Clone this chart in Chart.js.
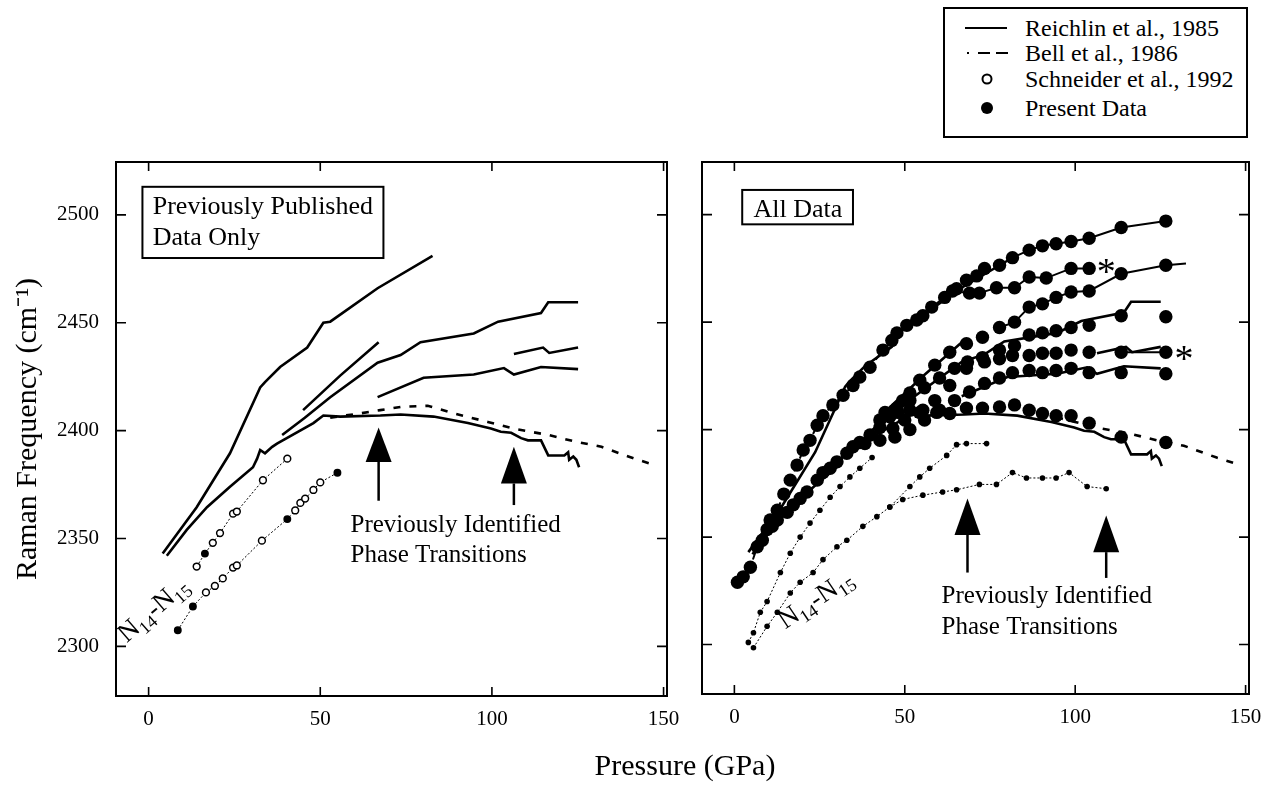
<!DOCTYPE html>
<html>
<head>
<meta charset="utf-8">
<script src="https://cdn.jsdelivr.net/npm/chart.js@4.4.0/dist/chart.umd.min.js"></script>
<style>
  body { margin: 0; background: #fff; width: 1267px; height: 785px; position: relative; overflow: hidden; font-family: "Liberation Serif", serif; }
  #left { position: absolute; left: 0; top: 0; }
  #right { position: absolute; left: 690px; top: 0; }
  #xtitle { position: absolute; left: 535px; top: 748px; width: 300px; text-align: center; font-size: 30px; }
  #legend { position: absolute; left: 943px; top: 7px; width: 305px; height: 131px; box-sizing: border-box; border: 2px solid #000; background: #fff; }
  #legend svg { position: absolute; left: 0; top: 0; }
  #legend .t { position: absolute; left: 80px; font-size: 24px; line-height: 26px; white-space: nowrap; }
</style>
</head>
<body>
<canvas id="left" width="690" height="785"></canvas>
<canvas id="right" width="577" height="785"></canvas>
<div id="xtitle">Pressure (GPa)</div>
<div id="legend">
  <svg width="80" height="127">
    <line x1="20" y1="19" x2="62" y2="19" stroke="#000" stroke-width="2"/>
    <line x1="22" y1="44" x2="24" y2="44" stroke="#000" stroke-width="2"/>
    <line x1="33" y1="44" x2="45" y2="44" stroke="#000" stroke-width="2"/>
    <line x1="51" y1="44" x2="63" y2="44" stroke="#000" stroke-width="2"/>
    <circle cx="42" cy="70" r="4.5" fill="#fff" stroke="#000" stroke-width="2"/>
    <circle cx="42" cy="99" r="6" fill="#000"/>
  </svg>
  <div class="t" style="top:6px">Reichlin et al., 1985</div>
  <div class="t" style="top:31px">Bell et al., 1986</div>
  <div class="t" style="top:57px">Schneider et al., 1992</div>
  <div class="t" style="top:86px">Present Data</div>
</div>
<script>
// axis ticks
const xTickVals = [0, 50, 100, 150];
const yTickVals = [2300, 2350, 2400, 2450, 2500];

// Reichlin et al. 1985 (solid lines), pressure GPa / frequency cm-1
const r1P = [4.1, 14.0, 23.7, 32.5, 33.9, 38.3, 46.2, 50.9, 52.9, 66.7, 82.7];
const r1F = [2343, 2364.5, 2389.5, 2420, 2422.5, 2429.5, 2438.5, 2450, 2450.5, 2466, 2481];
const r2P = [5.3, 11.1, 17.0, 23.7, 30.4, 31.6, 32.5, 33.9, 36.0, 37.4, 48.0, 50.9, 55.8, 67.5, 73.4, 83.0, 93.0, 99.7, 102.6, 105.6, 108.5, 110.5, 114.3, 116.4, 121.1, 122.2, 122.5, 123.7, 124.6, 125.4];
const r2F = [2342, 2354, 2364.5, 2374, 2383, 2387, 2391, 2389.5, 2392.5, 2394, 2403.5, 2407, 2406.5, 2407, 2407.5, 2406.5, 2403.5, 2401, 2399.5, 2399, 2396.5, 2395.5, 2395.5, 2388.5, 2388.5, 2390, 2386.5, 2388, 2386.5, 2383];
const r3P = [38.9, 45.5, 52.9, 66.7, 73.4, 79.2, 94.7, 101.8, 114.3, 116.4, 125.1];
const r3F = [2398, 2406, 2415.5, 2431.5, 2435, 2441, 2445, 2450.5, 2454.5, 2459.5, 2459.5];
const rSP = [45.0, 55.8, 67.0];
const rSF = [2409.5, 2425.5, 2441];
const r4P = [66.7, 80.1, 94.7, 103.5, 106.4, 114.3, 125.1];
const r4F = [2415.5, 2424.5, 2426, 2429, 2426, 2429.5, 2428.5];
const r5P = [106.4, 114.9, 116.7, 125.1];
const r5F = [2435.5, 2438.5, 2436, 2438.5];

// Bell et al. 1986 (dashed)
const bellP = [52.9, 61.7, 67.5, 73.4, 81.3, 88.9, 98.8, 107.6, 116.4, 124.0, 131.9, 141.5, 146.5];
const bellF = [2406, 2408, 2409.5, 2411, 2411.5, 2408, 2404, 2400.5, 2398, 2395, 2392.5, 2387, 2384.5];

// Schneider et al. 1992, N14-N15 isotope (left panel); filled flags mark solid dots
const schUpP = [14.0, 16.4, 18.7, 20.8, 24.6, 25.7, 33.3, 40.4];
const schUpF = [2337, 2343, 2348, 2352.5, 2361.5, 2362.5, 2377, 2387];
const schUpFill = [0, 1, 0, 0, 0, 0, 0, 0];
const schLoP = [8.5, 12.9, 16.7, 19.3, 21.6, 24.6, 25.7, 33.0, 40.4, 42.7, 44.2, 45.6, 48.0, 50.0, 55.0];
const schLoF = [2307.5, 2318.5, 2325, 2328, 2331.5, 2336.5, 2337.5, 2349, 2359, 2363, 2366.5, 2368.5, 2372.5, 2376, 2380.5];
const schLoFill = [1, 1, 0, 0, 0, 0, 0, 0, 1, 0, 0, 0, 0, 0, 1];

// isotope branches, right panel (small dots)
const iso1P = [4.1, 5.6, 7.6, 9.6, 13.5, 16.4, 19.3, 22.2, 25.1, 28.1, 31.0, 33.9, 36.8, 40.4];
const iso1F = [2301, 2305.5, 2315, 2320, 2333.5, 2342.5, 2350, 2356.5, 2362.5, 2368.5, 2373.5, 2378, 2382, 2387];
const iso2P = [5.6, 9.6, 12.6, 16.4, 19.3, 23.1, 26.0, 30.1, 33.0, 37.7, 41.8, 45.6, 51.5, 54.4, 57.3, 62.3, 65.2, 68.1, 74.0];
const iso2F = [2298.5, 2308.5, 2315, 2324, 2329, 2333.5, 2339.5, 2345.5, 2348.5, 2355, 2359.5, 2364, 2373.5, 2378, 2382, 2388, 2393, 2393.5, 2393.5];
const iso3P = [45.6, 49.4, 55.3, 61.1, 65.2, 71.9, 76.9, 81.6, 85.7, 90.4, 94.4, 98.2, 103.5, 109.1];
const iso3F = [2364, 2367.5, 2369.5, 2371, 2372, 2374.5, 2374.5, 2380, 2377.5, 2377.5, 2377.5, 2380, 2373.5, 2372.5];

// present data (large filled dots)
const p1P = [0.9, 2.6, 4.7, 6.7, 8.2, 9.6, 10.5, 12.6, 14.5, 16.4, 18.4, 20.2, 22.2, 24.3, 26.0, 28.9, 31.9, 34.8, 36.8, 39.8, 43.6, 46.2, 47.7, 50.6, 53.5, 55.3, 57.9, 61.7, 65.2, 68.1, 71.1, 73.4, 77.8, 81.6, 86.5, 90.4, 94.4, 98.8, 104.1, 113.5, 126.6];
const p1F = [2329, 2331.5, 2336, 2345.5, 2348.5, 2353.5, 2358, 2362.5, 2370, 2376.5, 2383.5, 2390.5, 2395, 2402, 2406.5, 2411.5, 2416, 2420.5, 2424.5, 2429, 2437, 2441.5, 2445, 2448.5, 2451, 2453, 2457, 2461.5, 2465.5, 2469.5, 2471.5, 2475, 2476.5, 2480, 2483.5, 2485.5, 2486.5, 2487.5, 2489, 2494, 2497];
const p2P = [64.0, 69.0, 71.9, 76.9, 82.2, 86.5, 91.5, 98.8, 104.1];
const p2F = [2464.5, 2463.5, 2463.5, 2466, 2466, 2471, 2470.5, 2475, 2475];
const p3P = [11.1, 12.6, 15.5, 17.3, 19.3, 21.3, 24.3, 26.0, 28.1, 30.1, 33.0, 34.8, 36.8, 39.8, 42.7, 45.6, 47.7, 49.4, 51.5, 54.4, 58.8, 63.2, 68.1, 72.8, 77.8, 82.2, 86.5, 90.4, 94.4, 98.8, 104.1, 113.5, 126.6];
const p3F = [2355, 2358, 2361.5, 2365, 2368, 2371, 2376.5, 2380, 2382, 2385, 2389, 2392, 2394, 2397.5, 2401, 2406, 2410, 2413.5, 2417, 2423, 2430, 2436, 2440, 2443, 2447.5, 2450, 2457, 2458.5, 2461.5, 2464, 2464.5, 2472.5, 2476.5];
const p4P = [42.7, 47.1, 51.5, 55.8, 60.2, 64.6, 68.4, 72.8, 77.8, 82.2, 86.5, 90.4, 94.4, 98.8, 104.1, 113.5, 126.6];
const p4F = [2404.5, 2409, 2413.5, 2419.5, 2424, 2428.5, 2431.5, 2433.5, 2437, 2439, 2444, 2445, 2446, 2447.5, 2448.5, 2453, 2452.5];
const p5P = [46.5, 50.0, 54.4, 58.8, 63.2, 68.1, 73.4, 77.8, 81.6, 86.5, 90.4, 94.4, 98.8, 104.1, 113.5, 126.6];
const p5F = [2400.5, 2404.5, 2408, 2413.5, 2420.5, 2428.5, 2431.5, 2433, 2434.5, 2434.5, 2435.5, 2435.5, 2437, 2436, 2436, 2436];
const p6P = [38.3, 42.7, 47.1, 51.5, 55.8, 60.2, 64.6, 69.0, 73.4, 77.8, 81.6, 86.5, 90.4, 94.4, 98.8, 104.1, 113.5, 126.6];
const p6F = [2393.5, 2395, 2396.5, 2400, 2404.5, 2409, 2413.5, 2417.5, 2421.5, 2424, 2426.5, 2427.5, 2426.5, 2427.5, 2428.5, 2426.5, 2426.5, 2426];
const p7P = [44.2, 48.0, 51.5, 55.3, 59.4, 63.2, 68.1, 72.8, 77.8, 82.2, 86.5, 90.4, 94.4, 98.8, 104.1, 113.5, 126.6];
const p7F = [2408, 2408, 2409, 2409, 2408, 2407.5, 2410, 2410, 2410.5, 2411.5, 2409, 2407.5, 2406.5, 2406.5, 2403, 2396.5, 2394];
// line extension past last point of branch 3
const p3EndP = [126.6, 132.5];
const p3EndF = [2476.5, 2477.3];

const pts = (P, F) => P.map((p, i) => ({ x: p, y: F[i] }));
const keep = (P, F, test) => pts(P, F).filter(d => test(d.x));

const FONT = '"Liberation Serif", serif';

function solid(data, w) {
  return { data, showLine: true, borderColor: '#000', borderWidth: w || 2.6, pointRadius: 0, order: 2 };
}
function dashed(data, w, dash) {
  return { data, showLine: true, borderColor: '#000', borderWidth: w || 2.6, borderDash: dash || [7, 9], pointRadius: 0, order: 2 };
}
function dots(data, r) {
  return { data, showLine: false, pointRadius: r, pointBackgroundColor: '#000', pointBorderColor: '#000', pointBorderWidth: 0, order: 0 };
}
function isoLine(data, fill, r) {
  return {
    data, showLine: true, borderColor: '#000', borderWidth: 1, borderDash: [2, 2],
    pointRadius: fill ? fill.map(f => f ? 3.2 : 3.4) : r,
    pointBackgroundColor: fill ? fill.map(f => f ? '#000' : '#fff') : '#000',
    pointBorderColor: '#000', pointBorderWidth: fill ? 1.5 : 0, order: 1
  };
}

function reichlinSets() {
  return [solid(pts(r1P, r1F)), solid(pts(r2P, r2F)), solid(pts(r3P, r3F)), solid(pts(rSP, rSF)),
          solid(pts(r4P, r4F)), solid(pts(r5P, r5F)), dashed(pts(bellP, bellF))];
}

function drawArrow(ctx, sx, sy, a) {
  const px = sx.getPixelForValue(a.x), pt = sy.getPixelForValue(a.tip),
        pb = sy.getPixelForValue(a.base), pe = sy.getPixelForValue(a.end);
  ctx.beginPath(); ctx.moveTo(px, pt); ctx.lineTo(px - 13, pb); ctx.lineTo(px + 13, pb); ctx.closePath(); ctx.fill();
  ctx.lineWidth = 2.5; ctx.beginPath(); ctx.moveTo(px, pb); ctx.lineTo(px, pe); ctx.stroke();
}

function drawIso(ctx, px, py, ang) {
  ctx.save(); ctx.translate(px, py); ctx.rotate(ang * Math.PI / 180);
  ctx.textAlign = 'left'; ctx.textBaseline = 'alphabetic';
  let cx = 0;
  [['N', 27, 0], ['14', 18, 6], ['-', 27, 0], ['N', 27, 0], ['15', 18, 6]].forEach(([t, s, dy]) => {
    ctx.font = s + 'px ' + FONT; ctx.fillText(t, cx, dy); cx += ctx.measureText(t).width;
  });
  ctx.restore();
}

// frame, inward ticks and the notes drawn on the plot
const framePlugin = {
  id: 'frame',
  afterDatasetsDraw(chart, args, o) {
    const { ctx, chartArea: a, scales: { x, y } } = chart;
    ctx.save();
    ctx.fillStyle = '#000'; ctx.strokeStyle = '#000';
    ctx.lineWidth = 2;
    ctx.strokeRect(a.left, a.top, a.right - a.left, a.bottom - a.top);
    ctx.lineWidth = 1.6;
    ctx.beginPath();
    xTickVals.forEach(v => {
      const p = x.getPixelForValue(v);
      ctx.moveTo(p, a.bottom); ctx.lineTo(p, a.bottom - 9);
      ctx.moveTo(p, a.top); ctx.lineTo(p, a.top + 9);
    });
    yTickVals.forEach(v => {
      const p = y.getPixelForValue(v);
      ctx.moveTo(a.left, p); ctx.lineTo(a.left + 10, p);
      ctx.moveTo(a.right, p); ctx.lineTo(a.right - 10, p);
    });
    ctx.stroke();

    // boxed label
    const b = o.box;
    const bx0 = x.getPixelForValue(b.x0), bx1 = x.getPixelForValue(b.x1);
    const by0 = y.getPixelForValue(b.y0), by1 = y.getPixelForValue(b.y1);
    ctx.fillStyle = '#fff'; ctx.fillRect(bx0, by0, bx1 - bx0, by1 - by0);
    ctx.fillStyle = '#000'; ctx.lineWidth = 2; ctx.strokeRect(bx0, by0, bx1 - bx0, by1 - by0);
    ctx.font = '26px ' + FONT; ctx.textAlign = 'left'; ctx.textBaseline = 'alphabetic';
    b.lines.forEach(l => ctx.fillText(l.text, x.getPixelForValue(l.x), y.getPixelForValue(l.y)));

    // arrows and their caption
    o.arrows.forEach(ar => drawArrow(ctx, x, y, ar));
    ctx.font = '25px ' + FONT;
    o.notes.forEach(n => ctx.fillText(n.text, x.getPixelForValue(n.x), y.getPixelForValue(n.y)));

    // asterisks
    ctx.font = '38px ' + FONT; ctx.textAlign = 'center';
    (o.stars || []).forEach(s => ctx.fillText('*', x.getPixelForValue(s.x), y.getPixelForValue(s.y) + 21));

    drawIso(ctx, x.getPixelForValue(o.iso.x), y.getPixelForValue(o.iso.y), o.iso.angle);
    ctx.restore();
  }
};

function scales(showY, yWidth) {
  return {
    x: {
      type: 'linear', min: -9.5, max: 151,
      afterBuildTicks: s => { s.ticks = xTickVals.map(v => ({ value: v })); },
      afterFit: s => { s.height = 40; },
      grid: { display: false }, border: { display: false },
      ticks: { color: '#000', padding: 3, font: { family: FONT, size: 21 }, callback: v => String(v) }
    },
    y: {
      type: 'linear', min: 2277, max: 2524.5,
      afterBuildTicks: s => { s.ticks = yTickVals.map(v => ({ value: v })); },
      afterFit: s => { s.width = yWidth; },
      grid: { display: false }, border: { display: false },
      ticks: { display: showY, color: '#000', padding: 9, font: { family: FONT, size: 21 }, callback: v => String(v) },
      title: {
        display: showY, text: 'Raman Frequency (cm\u207B\u00B9)', color: '#000',
        font: { family: FONT, size: 30 }, padding: { top: 10, bottom: 0 }
      }
    }
  };
}

const common = {
  responsive: false, animation: false, events: [],
  plugins: { legend: { display: false }, tooltip: { enabled: false } }
};

// left panel: previously published data only
new Chart(document.getElementById('left'), {
  type: 'scatter',
  data: {
    datasets: [
      ...reichlinSets(),
      isoLine(pts(schUpP, schUpF), schUpFill),
      isoLine(pts(schLoP, schLoF), schLoFill)
    ]
  },
  options: {
    ...common,
    layout: { padding: { left: 0, right: 23, top: 162, bottom: 49 } },
    scales: scales(true, 116),
    plugins: {
      ...common.plugins,
      frame: {
        box: { x0: -1.8, x1: 68.4, y0: 2513, y1: 2480,
               lines: [{ text: 'Previously Published', x: 1.2, y: 2500.5 }, { text: 'Data Only', x: 1.2, y: 2486 }] },
        arrows: [{ x: 67.0, tip: 2401.5, base: 2385.5, end: 2367.5 }, { x: 106.4, tip: 2392.5, base: 2375.5, end: 2365.5 }],
        notes: [{ text: 'Previously Identified', x: 58.8, y: 2353 }, { text: 'Phase Transitions', x: 58.8, y: 2339 }],
        iso: { x: -6.4, y: 2301.5, angle: -41 }
      }
    }
  },
  plugins: [framePlugin]
});

// right panel: all data
const rightSets = reichlinSets();
rightSets.splice(0, 0,
  dashed(keep(p1P, p1F, v => v <= 66), 2, [8, 6]),
  solid(keep(p1P, p1F, v => v >= 81), 2),
  solid(pts(p2P, p2F), 2),
  solid(keep(p3P, p3F, v => v >= 77), 2),
  solid(pts(p3EndP, p3EndF), 2),
  solid(keep(p5P, p5F, v => v >= 113), 2)
);
[[iso1P, iso1F], [iso2P, iso2F], [iso3P, iso3F]].forEach(([P, F]) => rightSets.push(isoLine(pts(P, F), null, 2.8)));
[[p1P, p1F], [p2P, p2F], [p3P, p3F], [p4P, p4F], [p5P, p5F], [p6P, p6F], [p7P, p7F]].forEach(([P, F]) => rightSets.push(dots(pts(P, F), 6.7)));

new Chart(document.getElementById('right'), {
  type: 'scatter',
  data: { datasets: rightSets },
  options: {
    ...common,
    layout: { padding: { left: 0, right: 18, top: 162, bottom: 51 } },
    scales: scales(false, 12),
    plugins: {
      ...common.plugins,
      frame: {
        box: { x0: 2.3, x1: 34.8, y0: 2511.5, y1: 2495.5,
               lines: [{ text: 'All Data', x: 5.6, y: 2499 }] },
        arrows: [{ x: 68.4, tip: 2368, base: 2351, end: 2333.5 }, { x: 109.1, tip: 2360, base: 2343, end: 2331 }],
        notes: [{ text: 'Previously Identified', x: 60.8, y: 2319.5 }, { text: 'Phase Transitions', x: 60.8, y: 2305 }],
        stars: [{ x: 109.1, y: 2477.3 }, { x: 131.9, y: 2437 }],
        iso: { x: 14.9, y: 2307, angle: -34 }
      }
    }
  },
  plugins: [framePlugin]
});
</script>
</body>
</html>
